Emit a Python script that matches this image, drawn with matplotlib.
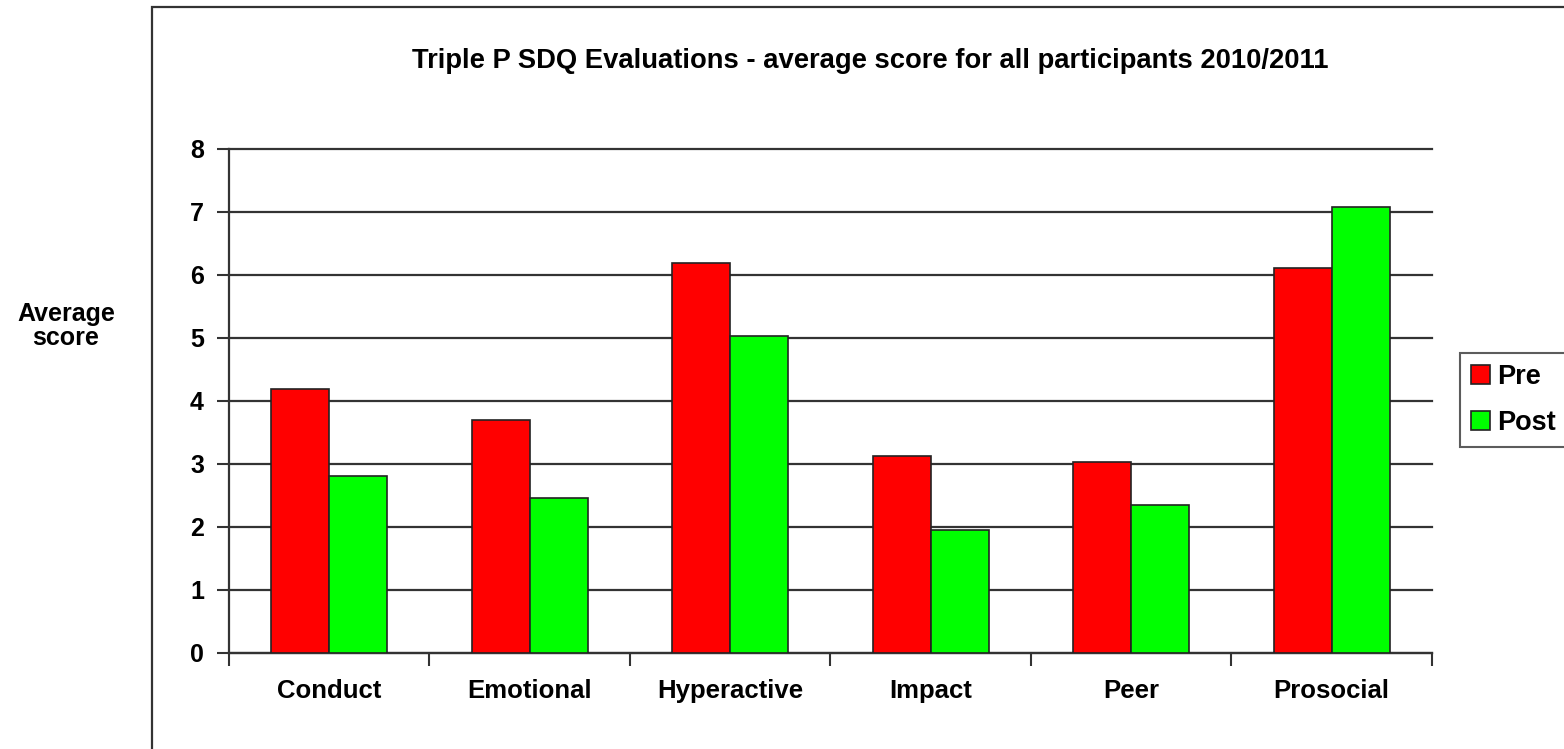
import numpy as np
import matplotlib
matplotlib.use("Agg")
import matplotlib.pyplot as plt
from matplotlib.patches import Rectangle

categories = ["Conduct", "Emotional", "Hyperactive", "Impact", "Peer", "Prosocial"]
pre_scores = [4.18, 3.70, 6.19, 3.12, 3.02, 6.10]
post_scores = [2.80, 2.46, 5.03, 1.94, 2.35, 7.07]
y_ticks = [0, 1, 2, 3, 4, 5, 6, 7, 8]

plt.rcParams['font.family'] = ['Liberation Sans', 'DejaVu Sans']
plt.rcParams['font.weight'] = 'bold'

fig = plt.figure(figsize=(15.64, 7.49), dpi=100)
ax = fig.add_axes([0.1464, 0.1286, 0.7692, 0.6731])

# outer chart border (cropped on right and bottom in the original)
fig.patches.append(Rectangle((152 / 1564, -0.05), 1.2, 1 - 7 / 749 + 0.05,
                             transform=fig.transFigure, fill=False,
                             edgecolor='#333333', linewidth=1.6))

x = np.arange(len(categories))
w = 0.29
ax.bar(x - w / 2, pre_scores, w, color='#ff0000', edgecolor='#222222', linewidth=1.2, label='Pre', zorder=3)
ax.bar(x + w / 2, post_scores, w, color='#00ff00', edgecolor='#222222', linewidth=1.2, label='Post', zorder=3)

ax.set_xlim(-0.5, len(categories) - 0.5)
ax.set_ylim(0, 8)
ax.set_yticks(y_ticks)
ax.set_yticklabels([str(t) for t in y_ticks], fontsize=18, fontweight='bold')
ax.set_xticks(x)
ax.set_xticklabels(categories, fontsize=18.5, fontweight='bold')
ax.set_xticks(np.arange(len(categories) + 1) - 0.5, minor=True)
ax.tick_params(axis='x', which='major', length=0, pad=19)
ax.tick_params(axis='x', which='minor', length=9, width=1.5, color='#333333')
ax.tick_params(axis='y', length=9, width=1.5, color='#333333', pad=9)

ax.yaxis.grid(True, color='#333333', linewidth=1.6, zorder=0)
for gl in ax.get_ygridlines():
    gl.set_clip_on(False)
ax.set_axisbelow(True)
for s in ['top', 'right']:
    ax.spines[s].set_visible(False)
for s in ['left', 'bottom']:
    ax.spines[s].set_color('#333333')
    ax.spines[s].set_linewidth(1.6)

fig.text(870 / 1564, 1 - 61 / 749, "Triple P SDQ Evaluations - average score for all participants 2010/2011",
         ha='center', va='center', fontsize=19.7, fontweight='bold')
fig.text(66 / 1564, 1 - 326 / 749, "Average\nscore", ha='center', va='center',
         fontsize=18, fontweight='bold', linespacing=1.05)

leg = ax.legend(loc='upper left', bbox_to_anchor=(1460 / 1564, 1 - 353 / 749),
                bbox_transform=fig.transFigure, fontsize=19.5, frameon=True, fancybox=False,
                handlelength=0.7, handleheight=0.7, handletextpad=0.25, borderpad=0.42,
                labelspacing=0.72, borderaxespad=0)
leg.get_frame().set_edgecolor('#333333')
leg.get_frame().set_linewidth(1.5)
for t in leg.get_texts():
    t.set_fontweight('bold')

fig.savefig("out.png", dpi=100)
